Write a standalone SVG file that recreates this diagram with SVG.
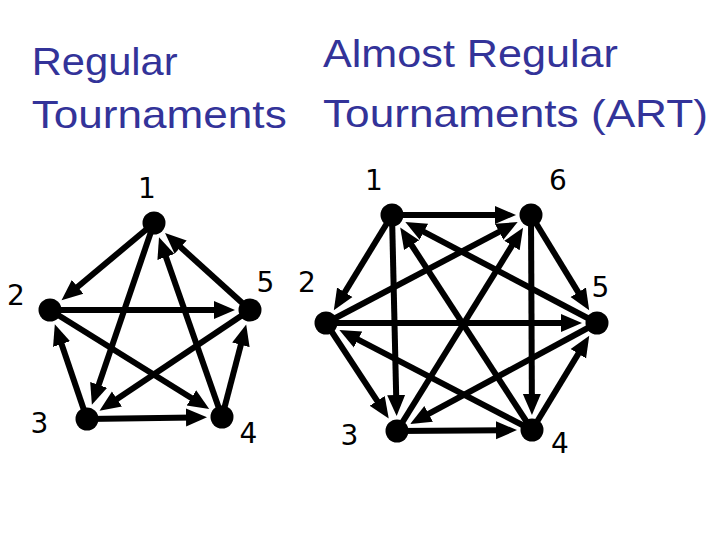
<svg xmlns="http://www.w3.org/2000/svg" width="720" height="540" viewBox="0 0 720 540">
<style>
.title{font-family:"Liberation Sans",Arial,sans-serif;font-size:39px;fill:#333399}
.lbl{font-family:"DejaVu Sans",Verdana,sans-serif;font-size:28px;fill:#000;text-anchor:middle}
.edge{stroke:#000;stroke-width:6;fill:none;marker-end:url(#ah)}
.node{fill:#000}
</style>
<defs>
<marker id="ah" markerUnits="userSpaceOnUse" markerWidth="22" markerHeight="20" viewBox="0 0 22 20" refX="8" refY="10" orient="auto">
<path d="M0,1 L21,10 L0,19 z" fill="#000"/>
</marker>
</defs>
<rect width="720" height="540" fill="#fff"/>
<g id="titles">
<text class="title" x="31.7" y="75" textLength="146" lengthAdjust="spacingAndGlyphs">Regular</text>
<text class="title" x="31.7" y="128" textLength="255" lengthAdjust="spacingAndGlyphs">Tournaments</text>
<text class="title" x="323" y="67" textLength="295" lengthAdjust="spacingAndGlyphs">Almost Regular</text>
<text class="title" x="323" y="127" textLength="385" lengthAdjust="spacingAndGlyphs">Tournaments (ART)</text>
</g>
<g id="connectors">
<line class="edge" x1="154" y1="223" x2="71.5" y2="292"/>
<line class="edge" x1="50" y1="310" x2="222" y2="310"/>
<line class="edge" x1="250" y1="310" x2="174.7" y2="241.8"/>
<line class="edge" x1="154" y1="223" x2="96.1" y2="392.5"/>
<line class="edge" x1="222" y1="417" x2="163.3" y2="249.4"/>
<line class="edge" x1="250" y1="310" x2="110.3" y2="403.4"/>
<line class="edge" x1="50" y1="310" x2="198.2" y2="402.2"/>
<line class="edge" x1="87" y1="419" x2="59" y2="336.5"/>
<line class="edge" x1="87" y1="419" x2="194" y2="417.4"/>
<line class="edge" x1="222" y1="417" x2="242.9" y2="337.1"/>

<line class="edge" x1="392" y1="215" x2="503" y2="215"/>
<line class="edge" x1="392" y1="215" x2="340.6" y2="299.1"/>
<line class="edge" x1="392" y1="215" x2="396.35" y2="403"/>
<line class="edge" x1="532" y1="430" x2="407.3" y2="238.5"/>
<line class="edge" x1="597" y1="323" x2="416.8" y2="228.1"/>
<line class="edge" x1="326" y1="323" x2="506.2" y2="228.1"/>
<line class="edge" x1="397" y1="431" x2="516.2" y2="238.8"/>
<line class="edge" x1="531" y1="215" x2="531.9" y2="402"/>
<line class="edge" x1="531" y1="215" x2="582.4" y2="299.1"/>
<line class="edge" x1="326" y1="323" x2="569" y2="323"/>
<line class="edge" x1="326" y1="323" x2="381.6" y2="407.6"/>
<line class="edge" x1="532" y1="430" x2="350.9" y2="335.9"/>
<line class="edge" x1="597" y1="323" x2="421.6" y2="417.7"/>
<line class="edge" x1="397" y1="431" x2="504" y2="430.2"/>
<line class="edge" x1="532" y1="430" x2="582.5" y2="346.9"/>
</g>
<g id="p1"><circle class="node" cx="154" cy="223" r="11.5"/><text class="lbl" x="147" y="198">1</text></g>
<g id="p2"><circle class="node" cx="50" cy="310" r="11.5"/><text class="lbl" x="16" y="305">2</text></g>
<g id="p5"><circle class="node" cx="250" cy="310" r="11.5"/><text class="lbl" x="265.5" y="292">5</text></g>
<g id="p3"><circle class="node" cx="87" cy="419" r="11.5"/><text class="lbl" x="39.5" y="433">3</text></g>
<g id="p4"><circle class="node" cx="222" cy="417" r="11.5"/><text class="lbl" x="248.5" y="443">4</text></g>
<g id="h1"><circle class="node" cx="392" cy="215" r="11.5"/><text class="lbl" x="374" y="190">1</text></g>
<g id="h6"><circle class="node" cx="531" cy="215" r="11.5"/><text class="lbl" x="558" y="190">6</text></g>
<g id="h2"><circle class="node" cx="326" cy="323" r="11.5"/><text class="lbl" x="307" y="292">2</text></g>
<g id="h5"><circle class="node" cx="597" cy="323" r="11.5"/><text class="lbl" x="600.5" y="297">5</text></g>
<g id="h3"><circle class="node" cx="397" cy="431" r="11.5"/><text class="lbl" x="349.5" y="445">3</text></g>
<g id="h4"><circle class="node" cx="532" cy="430" r="11.5"/><text class="lbl" x="560" y="453">4</text></g>
</svg>
